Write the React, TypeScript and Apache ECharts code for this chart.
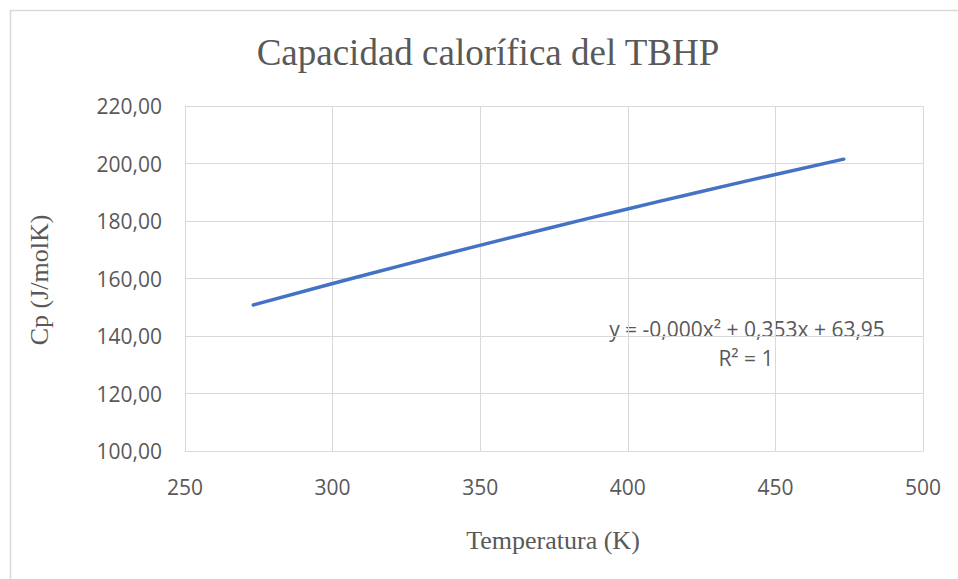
import React, { useEffect, useRef } from "react";
import * as echarts from "echarts";

const temperatures = [273.15, 298.15, 323.15, 348.15, 373.15, 398.15, 423.15, 448.15, 473.15];
const cpValues = [150.8, 157.73, 164.48, 171.07, 177.49, 183.75, 189.83, 195.76, 201.51];
const titleText = "Capacidad calorífica del TBHP";
const xAxisName = "Temperatura (K)";
const yAxisName = "Cp (J/molK)";
const trendEquation = "y = -0,000x² + 0,353x + 63,95";
const trendR2 = "R² = 1";

const GRAY = "#595959";
const GRID = "#d9d9d9";
const SANS = "'Open Sans', 'Liberation Sans', sans-serif";
const SERIF = "'Liberation Serif', 'Times New Roman', serif";

export default function App() {
  const ref = useRef<HTMLDivElement>(null);
  useEffect(() => {
    document.body.style.margin = "0";
    if (!ref.current) return;
    const chart = echarts.init(ref.current, null, { renderer: "svg" });
    const data = temperatures.map((t, i) => [t, cpValues[i]]);
    chart.setOption({
      animation: false,
      backgroundColor: "#ffffff",
      grid: { left: 185, right: 35, top: 106, bottom: 128, containLabel: false },
      xAxis: {
        type: "value",
        min: 250,
        max: 500,
        interval: 50,
        axisLine: { show: true, lineStyle: { color: GRID, width: 1 } },
        axisTick: { show: false },
        splitLine: { show: true, lineStyle: { color: GRID, width: 1 } },
        axisLabel: { color: GRAY, fontFamily: SANS, fontSize: 21, margin: 25 },
      },
      yAxis: {
        type: "value",
        min: 100,
        max: 220,
        interval: 20,
        axisLine: { show: true, lineStyle: { color: GRID, width: 1 } },
        axisTick: { show: false },
        splitLine: { show: true, lineStyle: { color: GRID, width: 1 } },
        axisLabel: {
          color: GRAY,
          fontFamily: SANS,
          fontSize: 21,
          margin: 23,
          formatter: (v: number) => v.toFixed(2).replace(".", ","),
        },
      },
      series: [
        {
          type: "line",
          data,
          smooth: true,
          showSymbol: false,
          lineStyle: { color: "#4472C4", width: 3.5, cap: "round" },
          itemStyle: { color: "#4472C4" },
        },
      ],
      graphic: [
        {
          type: "rect",
          shape: { x: 10.5, y: 10.5, width: 1200, height: 900 },
          style: { fill: "none", stroke: GRID, lineWidth: 1.5 },
          silent: true,
          z: -1,
        },
        {
          type: "text",
          x: 488,
          y: 52,
          style: {
            text: titleText,
            fill: GRAY,
            font: `37px ${SERIF}`,
            align: "center",
            verticalAlign: "middle",
          },
        },
        {
          type: "text",
          x: 553,
          y: 540,
          style: {
            text: xAxisName,
            fill: GRAY,
            font: `26px ${SERIF}`,
            align: "center",
            verticalAlign: "middle",
          },
        },
        {
          type: "text",
          x: 39,
          y: 280,
          rotation: Math.PI / 2,
          style: {
            text: yAxisName,
            fill: GRAY,
            font: `26px ${SERIF}`,
            align: "center",
            verticalAlign: "middle",
          },
        },
        {
          type: "text",
          x: 747,
          y: 329,
          style: {
            text: trendEquation,
            fill: GRAY,
            font: `21px ${SANS}`,
            align: "center",
            verticalAlign: "middle",
          },
        },
        {
          type: "text",
          x: 746,
          y: 358,
          style: {
            text: trendR2,
            fill: GRAY,
            font: `21px ${SANS}`,
            align: "center",
            verticalAlign: "middle",
          },
        },
      ],
    });
    return () => chart.dispose();
  }, []);
  return <div ref={ref} style={{ width: 958, height: 579 }} />;
}
